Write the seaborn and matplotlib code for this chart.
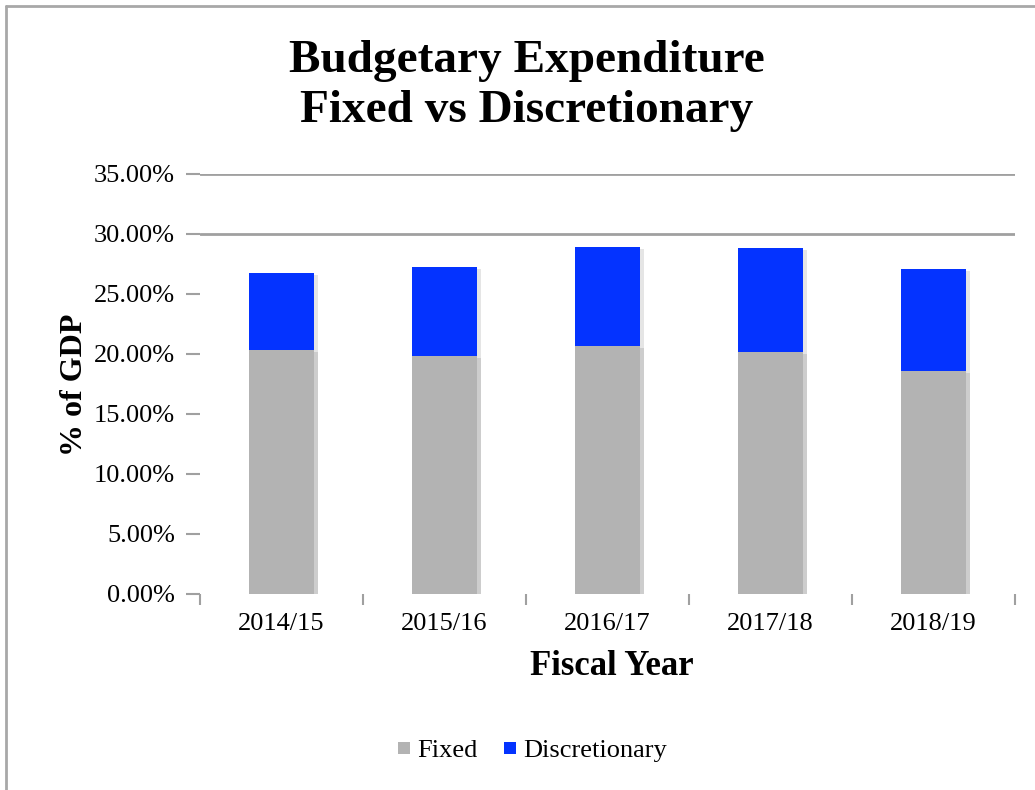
import matplotlib
matplotlib.use("Agg")
import matplotlib.pyplot as plt
import matplotlib.patheffects as pe
from matplotlib.lines import Line2D
import pandas as pd
import seaborn as sns

# Budget data: share of GDP (%) by fiscal year
years = ["2014/15", "2015/16", "2016/17", "2017/18", "2018/19"]
fixed = [20.33, 19.83, 20.67, 20.17, 18.58]
discretionary = [6.42, 7.42, 8.25, 8.67, 8.50]
y_ticks = [0, 5, 10, 15, 20, 25, 30, 35]

fixed_color = "#b3b3b3"
disc_color = "#0433ff"
grid_color = "#a0a0a0"

sns.set_theme(style="white")
plt.rcParams["font.family"] = ["Liberation Serif", "DejaVu Serif"]
plt.rcParams.update({
    "text.color": "black",
    "axes.labelcolor": "black",
    "xtick.labelcolor": "black",
    "ytick.labelcolor": "black",
})

df = pd.DataFrame({
    "year": years,
    "fixed": fixed,
    "total": [f + d for f, d in zip(fixed, discretionary)],
})

fig = plt.figure(figsize=(10.35, 7.9), dpi=100)
ax = fig.add_axes([200 / 1035, 1 - 594 / 790, 815 / 1035, 420 / 790])

shadow = [pe.SimplePatchShadow(offset=(2.5, -1.5), shadow_rgbFace="#000000", alpha=0.10), pe.Normal()]

# stacked bars: full height in blue, fixed portion drawn over it
sns.barplot(data=df, x="year", y="total", color=disc_color, saturation=1,
            width=0.4, ax=ax, zorder=2)
sns.barplot(data=df, x="year", y="fixed", color=fixed_color, saturation=1,
            width=0.4, ax=ax, zorder=3)
for p in ax.patches:
    p.set_path_effects(shadow)
    p.set_linewidth(0)

ax.set_ylim(0, 35)
ax.set_xlim(-0.5, len(years) - 0.5)
ax.set_yticks(y_ticks)
ax.set_yticklabels([f"{v:.2f}%" for v in y_ticks], fontsize=19)
ax.tick_params(axis="y", length=10, width=1.5, color=grid_color, pad=8, left=True)

# category boundary ticks on x
ax.set_xticks([i - 0.5 for i in range(len(years) + 1)], minor=True)
ax.tick_params(axis="x", which="minor", length=8, width=1.5, color=grid_color, bottom=True)
ax.tick_params(axis="x", which="major", length=0, pad=14, labelsize=19)

for s in ax.spines.values():
    s.set_visible(False)

# horizontal grid, masked by the plot area below 30%
ax.set_axisbelow(True)
ax.yaxis.grid(True, color=grid_color, linewidth=2)
ax.axhspan(0, 29.6, color="white", zorder=0.8, lw=0)
ax.set_facecolor("white")

ax.set_xlabel("Fiscal Year", fontsize=25, fontweight="bold")
ax.set_ylabel("% of GDP", fontsize=23, fontweight="bold")
ax.xaxis.set_label_coords(412 / 815, -(650 - 594) / 420)
ax.yaxis.set_label_coords(-(200 - 89) / 815, (594 - 385) / 420)

fig.text(527 / 1035, 1 - 86 / 790, "Budgetary Expenditure\nFixed vs Discretionary",
         ha="center", va="center", fontsize=34, fontweight="bold", linespacing=1.25)

handles = [
    Line2D([], [], marker="s", linestyle="", markersize=9,
           markerfacecolor=fixed_color, markeredgewidth=0, label="Fixed"),
    Line2D([], [], marker="s", linestyle="", markersize=9,
           markerfacecolor=disc_color, markeredgewidth=0, label="Discretionary"),
]
fig.legend(handles=handles, loc="center", bbox_to_anchor=(532 / 1035, 1 - 750 / 790),
           ncol=2, frameon=False, fontsize=19, handlelength=0.5, handletextpad=0.25,
           columnspacing=1.0)

# chart frame on the left and top edges
fig.add_artist(Line2D([6 / 1035, 6 / 1035], [0, 1 - 6 / 790], color="#a8a8a8", lw=2,
                      transform=fig.transFigure))
fig.add_artist(Line2D([6 / 1035, 1], [1 - 6 / 790, 1 - 6 / 790], color="#a8a8a8", lw=2,
                      transform=fig.transFigure))

fig.savefig("out.png", dpi=100, facecolor="white")
